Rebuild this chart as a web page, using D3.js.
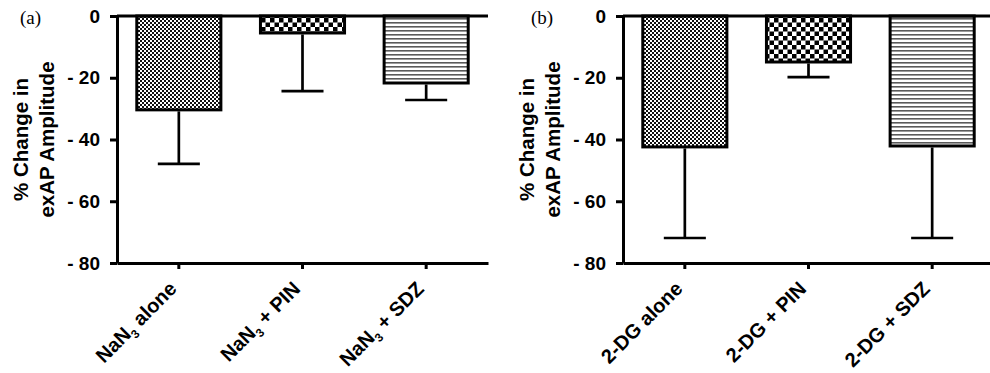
<!DOCTYPE html>
<html>
<head>
<meta charset="utf-8">
<script src="https://cdn.jsdelivr.net/npm/d3@7"></script>
<style>
  body { margin: 0; background: #fff; }
  svg { display: block; }
</style>
</head>
<body>
<div id="chart_div"></div>
<script>
// values (% change in exAP amplitude, mean and SEM)
let yTicks = [0, -20, -40, -60, -80]

let nanLabels = ["alone", "+ PIN", "+ SDZ"]
let nanMeans = [-30.4, -5.5, -21.7]
let nanSem = [17.5, 18.8, 5.5]

let dgLabels = ["2-DG alone", "2-DG + PIN", "2-DG + SDZ"]
let dgMeans = [-42.4, -14.9, -42.1]
let dgSem = [29.5, 4.9, 29.8]

let fills = ["url(#fineCheck)", "url(#bigCheck)", "url(#hLines)"]

let width = 990
let height = 373
let top_y = 16
let bottom_y = 263

window.onload = function () {

  let svg = d3.select("#chart_div")
    .append("svg")
    .attr("width", width)
    .attr("height", height)

  makePatterns(svg)

  drawPanel(svg, {
    left: 117, right: 488, tag: "(a)", tagX: 20,
    means: nanMeans, sem: nanSem, labels: nanLabels, sub: true
  })

  drawPanel(svg, {
    left: 623, right: 994, tag: "(b)", tagX: 531,
    means: dgMeans, sem: dgSem, labels: dgLabels, sub: false
  })
}

function makePatterns(svg) {
  let defs = svg.append("defs")

  // fine dither checkerboard
  let p1 = defs.append("pattern")
    .attr("id", "fineCheck")
    .attr("patternUnits", "userSpaceOnUse")
    .attr("width", 4).attr("height", 4)
  p1.append("rect").attr("width", 4).attr("height", 4).attr("fill", "#fff")
  p1.append("rect").attr("width", 2).attr("height", 2).attr("fill", "#111")
  p1.append("rect").attr("x", 2).attr("y", 2).attr("width", 2).attr("height", 2).attr("fill", "#111")

  // coarse checkerboard
  let p2 = defs.append("pattern")
    .attr("id", "bigCheck")
    .attr("patternUnits", "userSpaceOnUse")
    .attr("width", 9).attr("height", 9)
    .attr("y", top_y + 2)
  p2.append("rect").attr("width", 9).attr("height", 9).attr("fill", "#fff")
  p2.append("rect").attr("width", 4.5).attr("height", 4.5).attr("fill", "#000")
  p2.append("rect").attr("x", 4.5).attr("y", 4.5).attr("width", 4.5).attr("height", 4.5).attr("fill", "#000")

  // horizontal lines
  let p3 = defs.append("pattern")
    .attr("id", "hLines")
    .attr("patternUnits", "userSpaceOnUse")
    .attr("width", 8).attr("height", 4)
  p3.append("rect").attr("width", 8).attr("height", 4).attr("fill", "#fff")
  p3.append("rect").attr("y", 2).attr("width", 8).attr("height", 1.6).attr("fill", "#5a5a5a")
}

function drawPanel(svg, o) {

  let y = d3.scaleLinear()
    .domain([0, -80])
    .range([top_y, bottom_y])

  let x = d3.scaleBand()
    .domain(d3.range(o.means.length))
    .range([o.left, o.right])
    .paddingInner(0.32)
    .paddingOuter(0.16)

  let g = svg.append("g")

  // y axis
  let yAxis = g.append("g")
    .attr("transform", "translate(" + o.left + ",0)")
    .call(d3.axisLeft(y)
      .tickValues(yTicks)
      .tickSize(7)
      .tickSizeOuter(0)
      .tickPadding(10)
      .tickFormat(d => d == 0 ? "0" : "- " + Math.abs(d)))
  yAxis.select(".domain").attr("stroke", "#000").attr("stroke-width", 3)
  yAxis.selectAll(".tick line").attr("stroke", "#000").attr("stroke-width", 3)
  yAxis.selectAll(".tick text")
    .attr("fill", "#000")
    .style("font-family", "'Liberation Sans', Arial, sans-serif")
    .style("font-weight", "bold")
    .style("font-size", "19px")

  // bottom axis with category ticks
  let xAxis = g.append("g")
    .attr("transform", "translate(0," + y(-80) + ")")
    .call(d3.axisBottom(x).tickSize(6).tickSizeOuter(0).tickFormat(""))
  xAxis.select(".domain").attr("stroke", "#000").attr("stroke-width", 3)
  xAxis.selectAll(".tick line").attr("stroke", "#000").attr("stroke-width", 3)

  // bars
  g.selectAll(".bar")
    .data(o.means)
    .join("rect")
    .attr("class", "bar")
    .attr("x", (d, i) => x(i))
    .attr("y", y(0))
    .attr("width", x.bandwidth())
    .attr("height", d => y(d) - y(0))
    .attr("fill", (d, i) => fills[i])
    .attr("stroke", "#000")
    .attr("stroke-width", 3)

  // error bars (downward only)
  let cap = x.bandwidth() / 2
  g.selectAll(".err")
    .data(o.means)
    .join("line")
    .attr("class", "err")
    .attr("x1", (d, i) => x(i) + x.bandwidth() / 2)
    .attr("x2", (d, i) => x(i) + x.bandwidth() / 2)
    .attr("y1", d => y(d) + 1.5)
    .attr("y2", (d, i) => y(d - o.sem[i]))
    .attr("stroke", "#000")
    .attr("stroke-width", 2.7)
  g.selectAll(".cap")
    .data(o.means)
    .join("line")
    .attr("class", "cap")
    .attr("x1", (d, i) => x(i) + x.bandwidth() / 2 - cap / 2)
    .attr("x2", (d, i) => x(i) + x.bandwidth() / 2 + cap / 2)
    .attr("y1", (d, i) => y(d - o.sem[i]))
    .attr("y2", (d, i) => y(d - o.sem[i]))
    .attr("stroke", "#000")
    .attr("stroke-width", 2.7)

  // zero line across the top
  g.append("line")
    .attr("x1", o.left)
    .attr("x2", o.right)
    .attr("y1", y(0))
    .attr("y2", y(0))
    .attr("stroke", "#000")
    .attr("stroke-width", 3)

  // rotated category labels
  let lab = g.selectAll(".xlab")
    .data(o.labels)
    .join("text")
    .attr("class", "xlab")
    .attr("transform", (d, i) => "translate(" + (x(i) + x.bandwidth() / 2 - 1) + "," + (bottom_y + 27) + ") rotate(-45)")
    .attr("text-anchor", "end")
    .style("font-family", "'Liberation Sans', Arial, sans-serif")
    .style("font-weight", "bold")
    .style("font-size", "20px")

  if (o.sub) {
    lab.each(function (d) {
      let t = d3.select(this)
      t.append("tspan").text("NaN")
      t.append("tspan").text("3").attr("font-size", "12px").attr("dy", 5)
      t.append("tspan").text(" " + d).attr("dy", -5)
    })
  } else {
    lab.text(d => d)
  }

  // y title
  let title = g.append("g")
    .style("font-family", "'Liberation Sans', Arial, sans-serif")
    .style("font-weight", "bold")
    .style("font-size", "20.5px")
    .attr("text-anchor", "middle")
  title.append("text")
    .attr("transform", "translate(" + (o.left - 89) + "," + (top_y + bottom_y) / 2 + ") rotate(-90)")
    .text("% Change in")
  title.append("text")
    .attr("transform", "translate(" + (o.left - 63) + "," + (top_y + bottom_y) / 2 + ") rotate(-90)")
    .text("exAP Amplitude")

  // panel tag
  g.append("text")
    .attr("x", o.tagX)
    .attr("y", 24)
    .style("font-family", "'Liberation Serif', 'Times New Roman', serif")
    .style("font-size", "19px")
    .text(o.tag)
}
</script>
</body>
</html>
